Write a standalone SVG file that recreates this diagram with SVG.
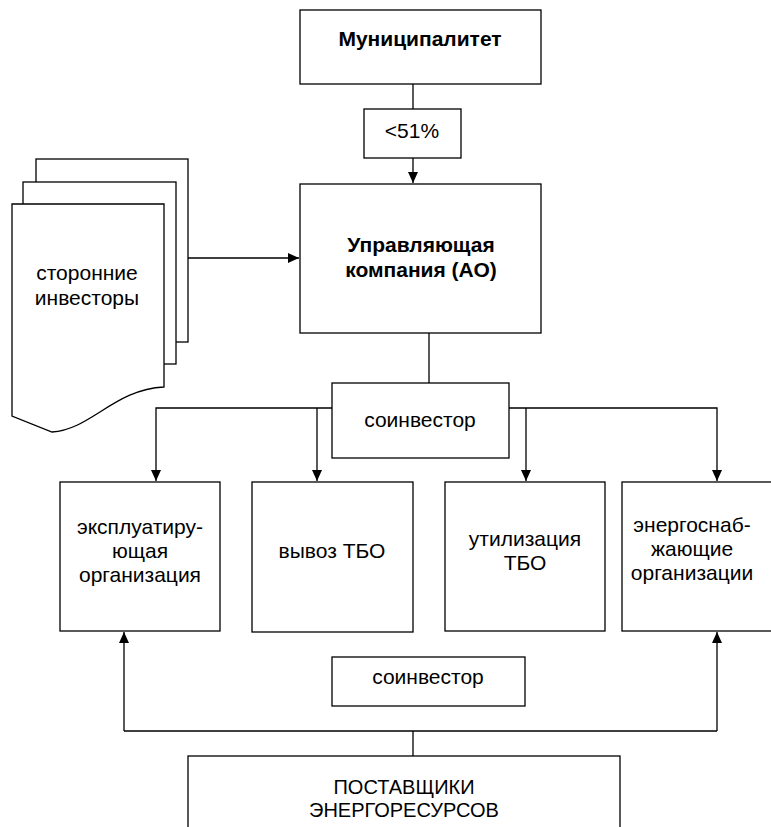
<svg xmlns="http://www.w3.org/2000/svg" width="771" height="827" viewBox="0 0 771 827">
<style>
.box{fill:#fff;stroke:#000;stroke-width:1.3}
.t{font-family:"Liberation Sans",Arial,sans-serif;font-size:21px;fill:#000;text-anchor:middle}
.b{font-weight:bold;font-size:21px}
.s{font-size:20px}
.c{fill:none;stroke:#000;stroke-width:1.3}
</style>
<defs>
<marker id="ah" markerWidth="12" markerHeight="10" refX="11" refY="5" orient="auto" markerUnits="userSpaceOnUse">
<path d="M0,0 L11,5 L0,10 Z" fill="#000"/>
</marker>
</defs>
<rect width="771" height="827" fill="#fff"/>

<g id="connectors">
<line class="c" x1="413" y1="84" x2="413" y2="109"/>
<line class="c" x1="413" y1="158" x2="413" y2="183" marker-end="url(#ah)"/>
<line class="c" x1="188" y1="258" x2="299" y2="258" marker-end="url(#ah)"/>
<line class="c" x1="429" y1="333" x2="429" y2="383"/>
<polyline class="c" points="332,408 156,408 156,481" marker-end="url(#ah)"/>
<line class="c" x1="317" y1="408" x2="317" y2="481" marker-end="url(#ah)"/>
<polyline class="c" points="509,408 717,408 717,481" marker-end="url(#ah)"/>
<line class="c" x1="526" y1="408" x2="526" y2="481" marker-end="url(#ah)"/>
<line class="c" x1="413" y1="756" x2="413" y2="731"/>
<polyline class="c" points="124,731 717,731"/>
<line class="c" x1="124" y1="731" x2="124" y2="632" marker-end="url(#ah)"/>
<line class="c" x1="717" y1="731" x2="717" y2="632" marker-end="url(#ah)"/>
</g>

<g id="municipality">
<rect class="box" x="300" y="10" width="241" height="74"/>
<text class="t b" x="420" y="46">Муниципалитет</text>
</g>

<g id="share">
<rect class="box" x="364" y="109" width="97" height="49"/>
<text class="t" x="412" y="138">&lt;51%</text>
</g>

<g id="investors">
<rect class="box" x="36" y="159" width="152" height="183"/>
<rect class="box" x="23" y="182" width="153" height="182"/>
<path class="box" d="M12,204 H164 V387 C115,389 90,430 52,432 L12,416 Z"/>
<text class="t" x="87" y="280">сторонние</text>
<text class="t" x="87" y="305">инвесторы</text>
</g>

<g id="management">
<rect class="box" x="300" y="184" width="241" height="149"/>
<text class="t b" x="421" y="252">Управляющая</text>
<text class="t b" x="421" y="277">компания (АО)</text>
</g>

<g id="coinvestor1">
<rect class="box" x="332" y="383" width="177" height="75"/>
<text class="t" x="420" y="427">соинвестор</text>
</g>

<g id="operating">
<rect class="box" x="60" y="482" width="160" height="149"/>
<text class="t" x="140" y="534">эксплуатиру-</text>
<text class="t" x="140" y="558">ющая</text>
<text class="t" x="140" y="582">организация</text>
</g>

<g id="removal">
<rect class="box" x="252" y="482" width="161" height="150"/>
<text class="t" x="332" y="558">вывоз ТБО</text>
</g>

<g id="utilization">
<rect class="box" x="445" y="482" width="160" height="149"/>
<text class="t" x="525" y="546">утилизация</text>
<text class="t" x="525" y="570">ТБО</text>
</g>

<g id="energy">
<rect class="box" x="622" y="482" width="160" height="149"/>
<text class="t" x="692" y="532">энергоснаб-</text>
<text class="t" x="692" y="556">жающие</text>
<text class="t" x="692" y="580">организации</text>
</g>

<g id="coinvestor2">
<rect class="box" x="332" y="657" width="193" height="49"/>
<text class="t" x="428" y="684">соинвестор</text>
</g>

<g id="suppliers">
<rect class="box" x="188" y="756" width="432" height="90"/>
<text class="t s" x="404" y="794">ПОСТАВЩИКИ</text>
<text class="t s" x="404" y="817">ЭНЕРГОРЕСУРСОВ</text>
</g>
</svg>
